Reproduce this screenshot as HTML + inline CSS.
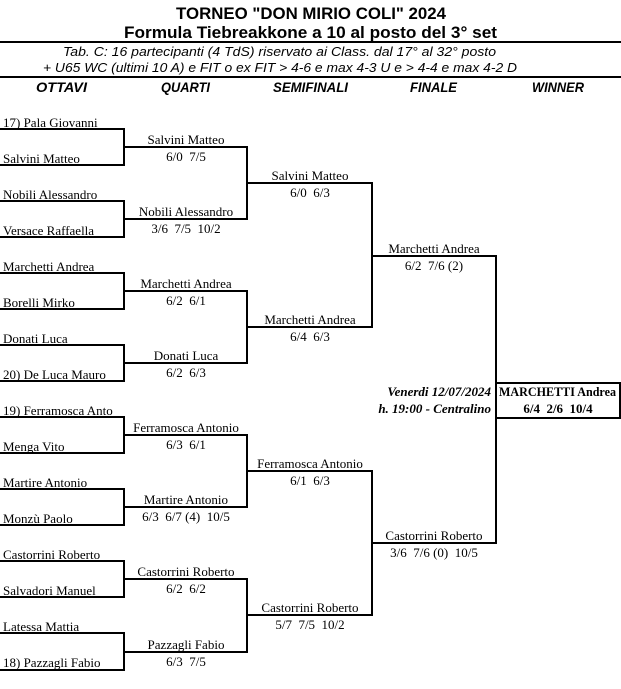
<!DOCTYPE html>
<html><head><meta charset="utf-8"><style>
html,body{margin:0;padding:0;background:#fff;}
svg{display:block;}
text{white-space:pre;}
.t{font-family:"Liberation Sans",sans-serif;font-weight:bold;}
.s{font-family:"Liberation Sans",sans-serif;font-style:italic;font-size:13px;}
.h{font-family:"Liberation Sans",sans-serif;font-style:italic;font-weight:bold;font-size:14px;}
.n{font-family:"Liberation Serif",serif;font-size:13px;}
.b{font-family:"Liberation Serif",serif;font-size:13px;font-weight:bold;}
.d{font-family:"Liberation Serif",serif;font-size:13px;font-weight:bold;font-style:italic;}
</style></head><body>
<svg width="621" height="689" viewBox="0 0 621 689" xmlns="http://www.w3.org/2000/svg" xml:space="preserve">
<text class="t" x="176" y="19" font-size="17" textLength="270" lengthAdjust="spacingAndGlyphs">TORNEO "DON MIRIO COLI" 2024</text>
<text class="t" x="124" y="38" font-size="17" textLength="373" lengthAdjust="spacingAndGlyphs">Formula Tiebreakkone a 10 al posto del 3° set</text>
<rect x="0" y="41" width="621" height="2" fill="#000"/>
<text class="s" x="63" y="56" textLength="433" lengthAdjust="spacingAndGlyphs">Tab. C: 16 partecipanti (4 TdS) riservato ai Class. dal 17° al 32° posto</text>
<text class="s" x="43" y="72" textLength="474" lengthAdjust="spacingAndGlyphs">+ U65 WC (ultimi 10 A) e FIT o ex FIT &gt; 4-6 e max 4-3 U e &gt; 4-4 e max 4-2 D</text>
<rect x="0" y="76" width="621" height="2" fill="#000"/>
<text class="h" x="36" y="92" textLength="51" lengthAdjust="spacingAndGlyphs">OTTAVI</text>
<text class="h" x="161" y="92" textLength="49" lengthAdjust="spacingAndGlyphs">QUARTI</text>
<text class="h" x="273" y="92" textLength="75" lengthAdjust="spacingAndGlyphs">SEMIFINALI</text>
<text class="h" x="410" y="92" textLength="47" lengthAdjust="spacingAndGlyphs">FINALE</text>
<text class="h" x="532" y="92" textLength="52" lengthAdjust="spacingAndGlyphs">WINNER</text>

<g stroke="#000" stroke-width="2" fill="none">
<path d="M0 129H124V165H0"/><path d="M0 201H124V237H0"/>
<path d="M0 273H124V309H0"/><path d="M0 345H124V381H0"/>
<path d="M0 417H124V453H0"/><path d="M0 489H124V525H0"/>
<path d="M0 561H124V597H0"/><path d="M0 633H124V670H0"/>
<path d="M124 147H247V219H124"/><path d="M124 291H247V363H124"/>
<path d="M124 435H247V507H124"/><path d="M124 579H247V652H124"/>
<path d="M247 183H372V327H247"/><path d="M247 471H372V615H247"/>
<path d="M372 256H496V543H372"/>
<rect x="496" y="383" width="124" height="35"/>
</g>

<g class="n">
<text x="3" y="127">17) Pala Giovanni</text>
<text x="3" y="163">Salvini Matteo</text>
<text x="3" y="199">Nobili Alessandro</text>
<text x="3" y="235">Versace Raffaella</text>
<text x="3" y="271">Marchetti Andrea</text>
<text x="3" y="307">Borelli Mirko</text>
<text x="3" y="343">Donati Luca</text>
<text x="3" y="379">20) De Luca Mauro</text>
<text x="3" y="415">19) Ferramosca Anto</text>
<text x="3" y="451">Menga Vito</text>
<text x="3" y="487">Martire Antonio</text>
<text x="3" y="523">Monzù Paolo</text>
<text x="3" y="559">Castorrini Roberto</text>
<text x="3" y="595">Salvadori Manuel</text>
<text x="3" y="631">Latessa Mattia</text>
<text x="3" y="667">18) Pazzagli Fabio</text>
</g>
<g class="n" text-anchor="middle">
<text x="186" y="144">Salvini Matteo</text><text x="186" y="161">6/0  7/5</text>
<text x="186" y="216">Nobili Alessandro</text><text x="186" y="233">3/6  7/5  10/2</text>
<text x="186" y="288">Marchetti Andrea</text><text x="186" y="305">6/2  6/1</text>
<text x="186" y="360">Donati Luca</text><text x="186" y="377">6/2  6/3</text>
<text x="186" y="432">Ferramosca Antonio</text><text x="186" y="449">6/3  6/1</text>
<text x="186" y="504">Martire Antonio</text><text x="186" y="521">6/3  6/7 (4)  10/5</text>
<text x="186" y="576">Castorrini Roberto</text><text x="186" y="593">6/2  6/2</text>
<text x="186" y="649">Pazzagli Fabio</text><text x="186" y="666">6/3  7/5</text>

<text x="310" y="180">Salvini Matteo</text><text x="310" y="197">6/0  6/3</text>
<text x="310" y="324">Marchetti Andrea</text><text x="310" y="341">6/4  6/3</text>
<text x="310" y="468">Ferramosca Antonio</text><text x="310" y="485">6/1  6/3</text>
<text x="310" y="612">Castorrini Roberto</text><text x="310" y="629">5/7  7/5  10/2</text>

<text x="434" y="253">Marchetti Andrea</text><text x="434" y="270">6/2  7/6 (2)</text>
<text x="434" y="540">Castorrini Roberto</text><text x="434" y="557">3/6  7/6 (0)  10/5</text>
</g>
<text class="b" x="499" y="396" textLength="117" lengthAdjust="spacingAndGlyphs">MARCHETTI Andrea</text>
<text class="b" x="558" y="413" text-anchor="middle">6/4  2/6  10/4</text>
<text class="d" x="491" y="396" text-anchor="end">Venerdi 12/07/2024</text>
<text class="d" x="491" y="413" text-anchor="end">h. 19:00 - Centralino</text>
</svg>
</body></html>
